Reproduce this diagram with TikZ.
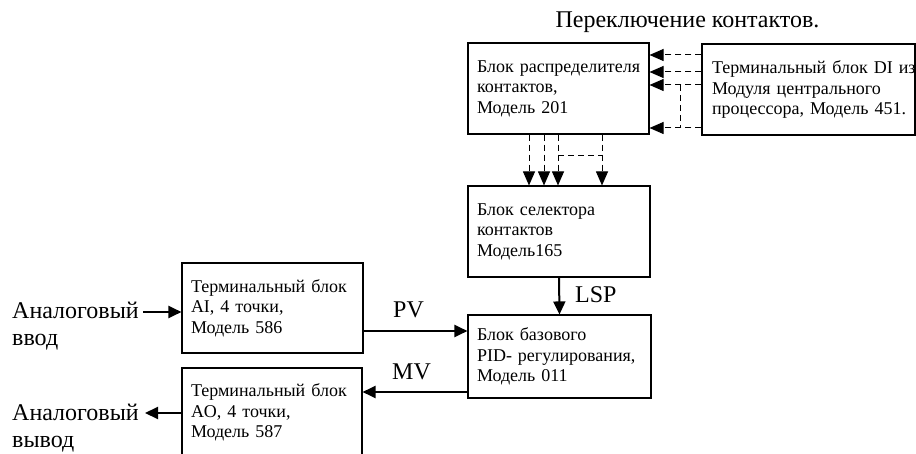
\documentclass[tikz,border=0pt]{standalone}
\usepackage{fontspec}
\setmainfont{Liberation Serif}
\usetikzlibrary{arrows.meta,positioning}

\tikzset{
  blk/.style={draw,line width=1.1pt,align=left,inner xsep=9pt,inner ysep=0pt,
    font=\fontsize{18}{20.5}\selectfont},
  sig/.style={line width=2pt,-{Triangle[length=13pt,width=12pt]}},
  dsig/.style={line width=1pt,dash pattern=on 6pt off 4pt,-{Triangle[length=14pt,width=12pt]}},
  dlink/.style={line width=1pt,dash pattern=on 6pt off 4pt},
  lbl/.style={font=\fontsize{24}{27}\selectfont,inner sep=0pt}
}

\begin{document}
\begin{tikzpicture}[x=1pt,y=-1pt]
		\useasboundingbox (0,0) rectangle (916,454);
		\clip (0,0) rectangle (916,454);
		% blocks
		\node[blk,text width=163pt,minimum height=91pt] (dist) at (558.5,88.5)
			{Блок~распределителя\\контактов,\\Модель 201\\[-14pt]};
		\node[blk,text width=193pt,minimum height=91pt,inner xsep=10pt] (di) at (808.5,89.5)
			{Терминальный~блок~DI~из\\Модуля центрального\\процессора,~Модель~451.\\[-14pt]};
		\node[blk,text width=164pt,minimum height=91pt] (sel) at (559,231.5)
			{Блок селектора\\контактов\\Модель165\\[-6pt]};
		\node[blk,text width=165pt,minimum height=83pt] (pid) at (559.5,356.5)
			{Блок базового\\PID-~регулирования,\\Модель 011\\[-10pt]};
		\node[blk,text width=163pt,minimum height=90pt] (ai) at (272.5,308)
			{Терминальный~блок\\AI, 4 точки,\\Модель 586\\[-4pt]};
		\node[blk,text width=162pt,minimum height=89pt] (ao) at (272,412.5)
			{Терминальный~блок\\AO, 4 точки,\\Модель 587\\[-8pt]};
		% labels
		\node[lbl,anchor=base] (title) at (687.5,28) {Переключение контактов.};
		\node[lbl,align=left,anchor=base west] (inlbl) at (12,345) {Аналоговый\\ввод};
		\node[lbl,align=left,anchor=base west] (outlbl) at (12,447) {Аналоговый\\вывод};
		\node[lbl,anchor=base west] (lsp) at (575,303) {LSP};
		\node[lbl,anchor=base west] (pv) at (393,318) {PV};
		\node[lbl,anchor=base west] (mv) at (392,380) {MV};
		\coordinate (inA) at (143,312);
		\coordinate (outA) at (145,413);
		% solid signals
		\draw[sig] (inA) -- (inA -| ai.west);
		\draw[sig] (ai.east |- 0,331) -- (pid.west |- 0,331);
		\draw[sig] (pid.west |- 0,392) -- (ao.east |- 0,392);
		\draw[sig] (ao.west |- outA) -- (outA);
		\draw[sig] (sel.south) -- (pid.north);
		% contact switching
		\foreach \y in {55,72,85,128}
			\draw[dsig] (di.west |- 0,\y) -- (dist.east |- 0,\y);
		\draw[dlink] (680,85) -- (680,128);
		\foreach \x in {529,544,558,602}
			\draw[dsig] (dist.south -| \x,0) -- (sel.north -| \x,0);
		\draw[dlink] (558,156) -- (602,156);
\end{tikzpicture}
\end{document}
